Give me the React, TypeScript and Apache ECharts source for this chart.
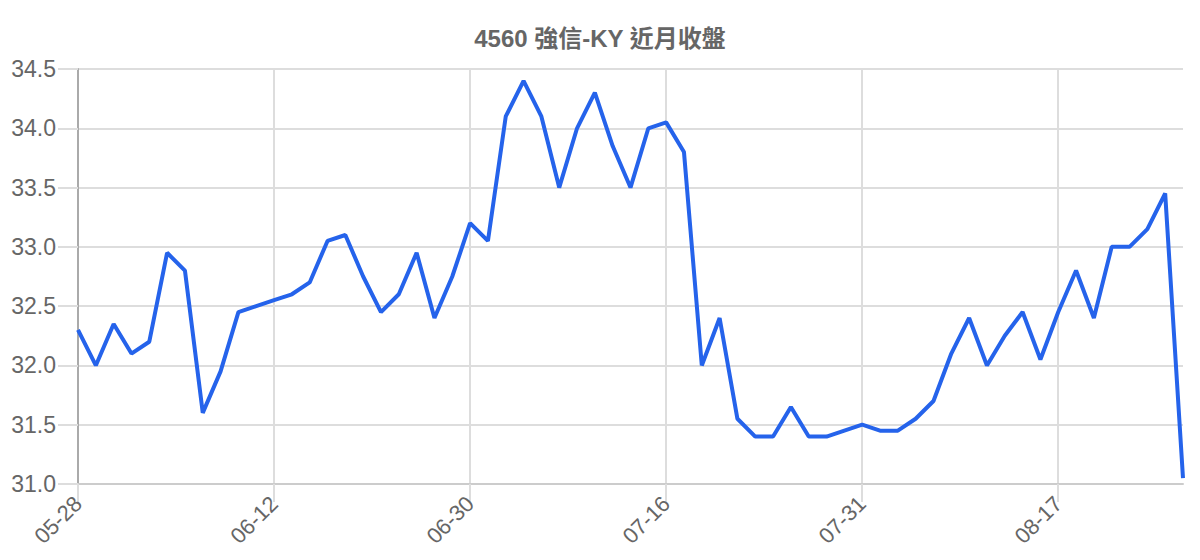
import { useEffect, useRef } from "react";
import * as echarts from "echarts";

const TITLE = "4560 強信-KY 近月收盤";

const dates = [
  "05-28", "05-29", "06-01", "06-02", "06-03", "06-04", "06-05", "06-08", "06-09", "06-10", "06-11",
  "06-12", "06-15", "06-16", "06-17", "06-18", "06-19", "06-20", "06-22", "06-23", "06-24", "06-29",
  "06-30", "07-01", "07-02", "07-03", "07-06", "07-07", "07-08", "07-09", "07-13", "07-14", "07-15",
  "07-16", "07-17", "07-20", "07-21", "07-22", "07-23", "07-24", "07-27", "07-28", "07-29", "07-30",
  "07-31", "08-03", "08-04", "08-05", "08-06", "08-07", "08-10", "08-11", "08-12", "08-13", "08-14",
  "08-17", "08-18", "08-19", "08-20", "08-21", "08-24", "08-25", "08-26",
];

const closes = [
  32.3, 32.0, 32.35, 32.1, 32.2, 32.95, 32.8, 31.6, 31.95, 32.45, 32.5,
  32.55, 32.6, 32.7, 33.05, 33.1, 32.75, 32.45, 32.6, 32.95, 32.4, 32.75,
  33.2, 33.05, 34.1, 34.4, 34.1, 33.5, 34.0, 34.3, 33.85, 33.5, 34.0,
  34.05, 33.8, 32.0, 32.4, 31.55, 31.4, 31.4, 31.65, 31.4, 31.4, 31.45,
  31.5, 31.45, 31.45, 31.55, 31.7, 32.1, 32.4, 32.0, 32.25, 32.45, 32.05,
  32.45, 32.8, 32.4, 33.0, 33.0, 33.15, 33.45, 31.05,
];

const FONT = "'Liberation Sans', Arial, 'Noto Sans CJK TC', sans-serif";

export default function App() {
  const ref = useRef<HTMLDivElement>(null);

  useEffect(() => {
    document.body.style.margin = "0";
    if (!ref.current) return;
    const chart = echarts.init(ref.current, null, { renderer: "svg" });
    chart.setOption({
      animation: false,
      backgroundColor: "#ffffff",
      textStyle: { fontFamily: FONT },
      title: {
        text: TITLE,
        left: "center",
        top: 21,
        textStyle: { fontSize: 24, fontWeight: "bold", color: "#666666", fontFamily: FONT },
      },
      grid: { left: 78, right: 17, top: 69, bottom: 76, containLabel: false },
      xAxis: {
        type: "category",
        data: dates,
        boundaryGap: false,
        axisLine: { lineStyle: { color: "#cccccc", width: 2 } },
        axisTick: { show: true, interval: 10, length: 18, lineStyle: { color: "#dddddd", width: 2 } },
        axisLabel: { interval: 10, rotate: 45, fontSize: 22, color: "#666666", margin: 16, fontFamily: FONT },
        splitLine: { show: true, interval: 10, lineStyle: { color: "#dddddd", width: 2 } },
      },
      yAxis: {
        type: "value",
        min: 31,
        max: 34.5,
        interval: 0.5,
        axisLine: { show: true, lineStyle: { color: "#aaaaaa", width: 2 } },
        axisTick: { show: true, length: 20, lineStyle: { color: "#dddddd", width: 2 } },
        axisLabel: { fontSize: 23, color: "#666666", margin: 22, fontFamily: FONT, formatter: (v: number) => v.toFixed(1) },
        splitLine: { show: true, lineStyle: { color: "#dddddd", width: 2 } },
      },
      series: [
        {
          type: "line",
          data: closes,
          symbol: "none",
          lineStyle: { color: "#2563eb", width: 4 },
          itemStyle: { color: "#2563eb" },
        },
      ],
    });
    return () => chart.dispose();
  }, []);

  return <div ref={ref} style={{ width: 1200, height: 560 }} />;
}
